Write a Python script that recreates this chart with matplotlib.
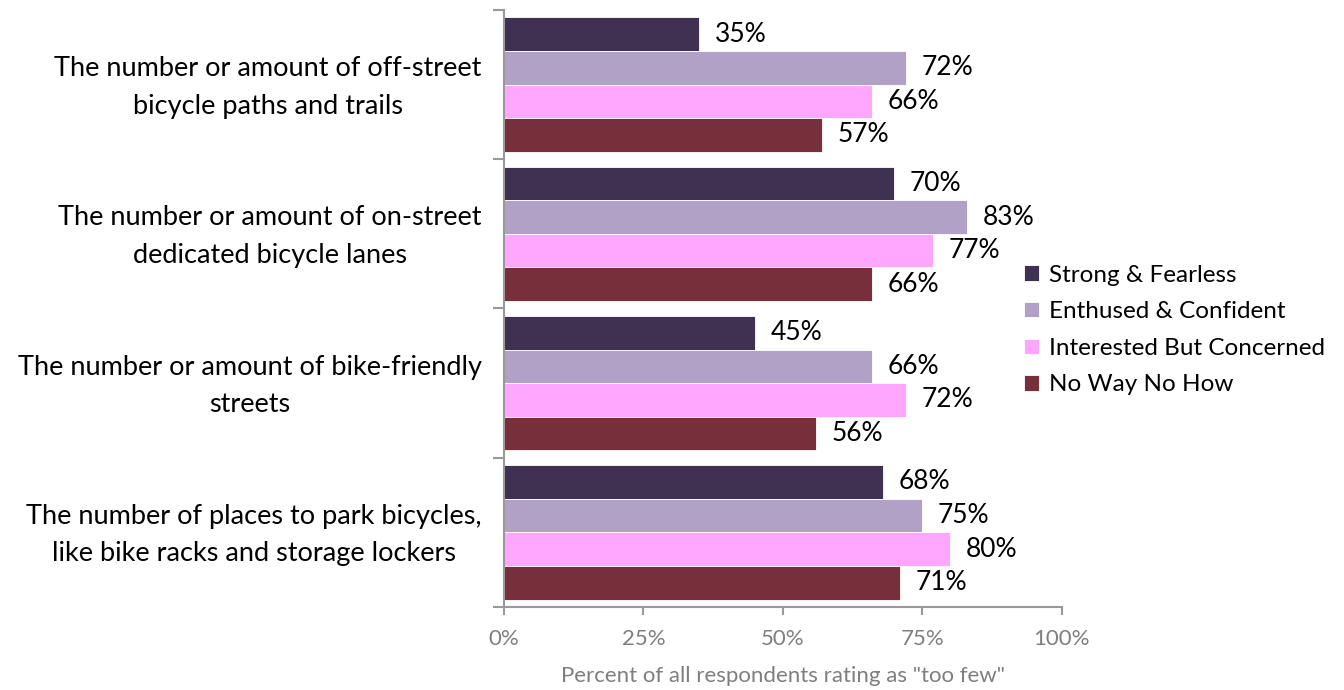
import numpy as np
import matplotlib.pyplot as plt
import matplotlib.transforms as mtransforms

plt.rcParams['font.family'] = ['Lato', 'DejaVu Sans']

categories = [
    "The number or amount of off-street\nbicycle paths and trails",
    "The number or amount of on-street\ndedicated bicycle lanes",
    "The number or amount of bike-friendly\nstreets",
    "The number of places to park bicycles,\nlike bike racks and storage lockers",
]
series = ["Strong & Fearless", "Enthused & Confident",
          "Interested But Concerned", "No Way No How"]
strong = [35, 70, 45, 68]
enthused = [72, 83, 66, 75]
interested = [66, 77, 72, 80]
noway = [57, 66, 56, 71]
colors = ["#3F3151", "#B2A1C7", "#FFA7FF", "#772F3B"]

values = [strong, enthused, interested, noway]

fig = plt.figure(figsize=(13.44, 6.9), dpi=100)
ax = fig.add_axes([0.375, 0.1203, 0.415, 0.8652])

y = np.arange(len(categories))
h = 0.225
for k, (vals, name, c) in enumerate(zip(values, series, colors)):
    pos = y + (k - 1.5) * h
    ax.barh(pos, vals, height=h, color=c, label=name,
            edgecolor="white", linewidth=0.6)
    for p, v in zip(pos, vals):
        ax.text(v + 2.8, p, f"{v}%", va="center", ha="left",
                fontsize=19, color="black")

ax.set_xlim(0, 100)
ax.set_ylim(3.5, -0.5)
ax.set_xticks([0, 25, 50, 75, 100])
ax.set_xticklabels(["0%", "25%", "50%", "75%", "100%"])
ax.set_yticks([-0.5, 0.5, 1.5, 2.5, 3.5])
ax.set_yticklabels([])
ax.set_yticks(y, minor=True)
ax.set_yticklabels(categories, minor=True, fontsize=19.5, ha="right",
                   multialignment="center", linespacing=1.62)
ax.tick_params(axis="y", which="minor", length=0, pad=16)
ax.tick_params(axis="y", which="major", length=8, color="#999999", width=1.5)
ax.tick_params(axis="x", length=6, color="#999999", width=1.5,
               labelcolor="#7F7F7F", labelsize=16, pad=10)

# nudge category labels up a little
shift = mtransforms.ScaledTranslation(0, 6 / 100, fig.dpi_scale_trans)
for lab in ax.get_yticklabels(minor=True):
    lab.set_transform(lab.get_transform() + shift)

for s in ["top", "right"]:
    ax.spines[s].set_visible(False)
for s in ["left", "bottom"]:
    ax.spines[s].set_color("#999999")
    ax.spines[s].set_linewidth(1.5)

ax.set_xlabel('Percent of all respondents rating as "too few"',
              fontsize=16, color="#7F7F7F", labelpad=12)

leg = fig.legend(loc="upper left", bbox_to_anchor=(0.746, 0.648),
                 frameon=False, fontsize=17.5, handlelength=0.6,
                 handleheight=0.6, handletextpad=0.4, labelspacing=0.64)

fig.savefig("out.png", dpi=100)
